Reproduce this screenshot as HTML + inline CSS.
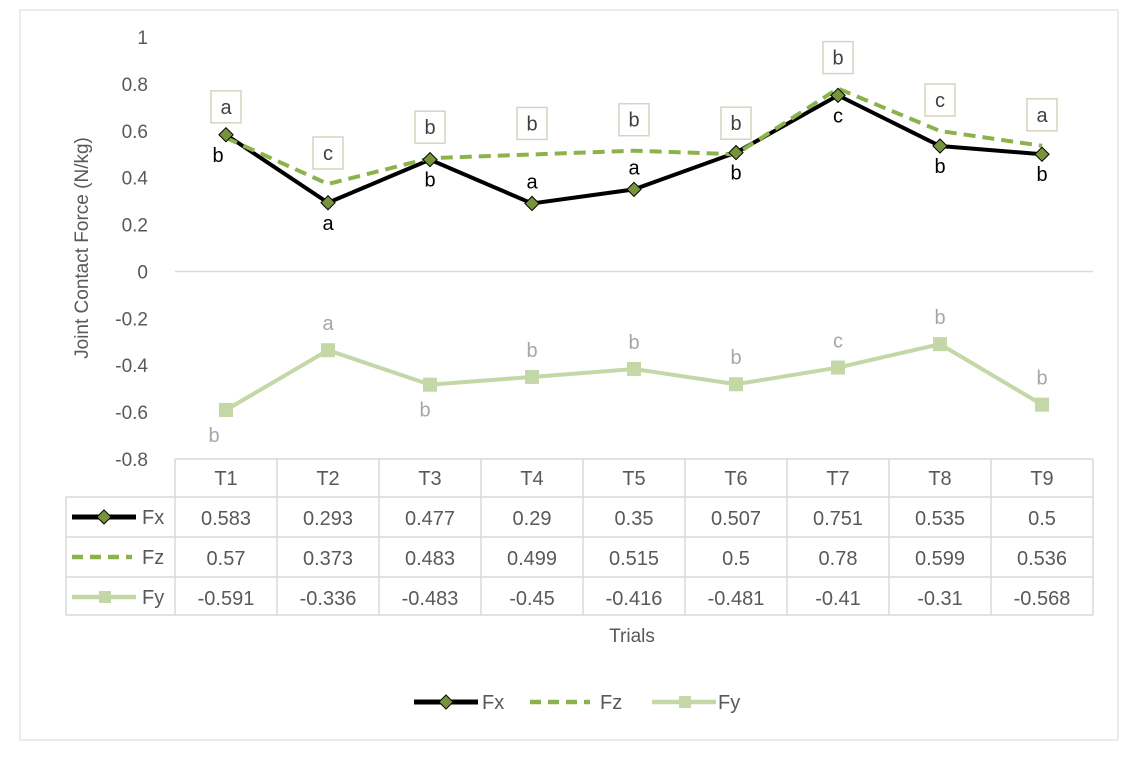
<!DOCTYPE html>
<html><head><meta charset="utf-8"><style>
body{margin:0;background:#fff;}
svg{font-family:"Liberation Sans",sans-serif;}
</style></head><body>
<svg id="c" width="1140" height="756" viewBox="0 0 1140 756" xmlns="http://www.w3.org/2000/svg">
<rect x="20" y="10" width="1098" height="730" fill="#fff" stroke="#d9d9d9"/>
<g id="g"></g>
</svg>
<script>
const categories=["T1","T2","T3","T4","T5","T6","T7","T8","T9"];
const fx=[0.583,0.293,0.477,0.29,0.35,0.507,0.751,0.535,0.5];
const fz=[0.57,0.373,0.483,0.499,0.515,0.5,0.78,0.599,0.536];
const fy=[-0.591,-0.336,-0.483,-0.45,-0.416,-0.481,-0.41,-0.31,-0.568];
const fxLetters=["b","a","b","a","a","b","c","b","b"];
const fzLetters=["a","c","b","b","b","b","b","c","a"];
const fyLetters=["b","a","b","b","b","b","c","b","b"];
const fxAbove=[0,0,0,1,1,0,0,0,0];
const fyAbove=[0,1,0,1,1,1,1,1,1];
const yTicks=[1,0.8,0.6,0.4,0.2,0,-0.2,-0.4,-0.6,-0.8];
const yTickLabels=["1","0.8","0.6","0.4","0.2","0","-0.2","-0.4","-0.6","-0.8"];

const NS="http://www.w3.org/2000/svg";
const g=document.getElementById('g');
const x0=175,colW=102,yTop=37,yBot=459,vMax=1,vMin=-0.8;
const X=i=>x0+colW*(i+0.5);
const Y=v=>yTop+(vMax-v)/(vMax-vMin)*(yBot-yTop);
function mk(t,a,txt){const e=document.createElementNS(NS,t);for(const k in a)e.setAttribute(k,a[k]);if(txt!==undefined)e.textContent=txt;g.appendChild(e);return e;}

// y ticks
yTicks.forEach((v,i)=>{
 const t=mk('text',{x:148,y:Y(v)+7,'text-anchor':'end','font-size':19,fill:'#595959'},yTickLabels[i]);
 
 
});
const zl=mk('line',{x1:x0,x2:x0+colW*9,y1:Y(0),y2:Y(0),stroke:'#d9d9d9','stroke-width':1.5});


const yt=mk('text',{x:0,y:0,transform:'translate(88,248) rotate(-90)','text-anchor':'middle','font-size':19,fill:'#595959'},'Joint Contact Force (N/kg)');



// table
const rows=[497,537,577,615];
const tl=[[x0,459,x0+colW*9,459],[66,497,x0+colW*9,497],[66,537,x0+colW*9,537],[66,577,x0+colW*9,577],[66,615,x0+colW*9,615],[66,497,66,615]];
for(let i=0;i<=9;i++)tl.push([x0+colW*i,459,x0+colW*i,615]);
tl.forEach(l=>{const e=mk('line',{x1:l[0],y1:l[1],x2:l[2],y2:l[3],stroke:'#d9d9d9','stroke-width':1.5});
 
 });
categories.forEach((c,i)=>{
 const t=mk('text',{x:X(i),y:485,'text-anchor':'middle','font-size':20,fill:'#595959'},c);
 
 
});
[fx,fz,fy].forEach((arr,r)=>{arr.forEach((v,i)=>{
 const t=mk('text',{x:X(i),y:rows[r]+28,'text-anchor':'middle','font-size':20,fill:'#595959'},String(v));
 
 
});});
const xt=mk('text',{x:632,y:642,'text-anchor':'middle','font-size':19,fill:'#595959'},'Trials');



function legendKey(x,y,kind,label,lx){
 if(kind==='fx'){mk('line',{x1:x,y1:y,x2:x+64,y2:y,stroke:'#000','stroke-width':5});mk('rect',{x:x+27,y:y-5,width:10,height:10,fill:'#77933c',stroke:'#000','stroke-width':1,transform:`rotate(45 ${x+32} ${y})`});}
 if(kind==='fz'){mk('line',{x1:x,y1:y,x2:x+60,y2:y,stroke:'#8cb34b','stroke-width':4.5,'stroke-dasharray':'11 7'});}
 if(kind==='fy'){mk('line',{x1:x,y1:y,x2:x+64,y2:y,stroke:'#c4d7a6','stroke-width':4.5});mk('rect',{x:x+27,y:y-6,width:12,height:12,fill:'#c4d7a6'});}
 const t=mk('text',{x:lx,y:y+7,'font-size':20,fill:'#595959'},label);
 
 
}
legendKey(72,517,'fx','Fx',142);legendKey(72,557,'fz','Fz',142);legendKey(72,597,'fy','Fy',142);
legendKey(414,702,'fx','Fx',482);legendKey(530,702,'fz','Fz',600);legendKey(652,702,'fy','Fy',718);

function poly(arr,attrs,name){const p=mk('polyline',Object.assign({points:arr.map((v,i)=>X(i)+','+Y(v)).join(' '),fill:'none'},attrs));
 
 }
poly(fy,{stroke:'#c4d7a6','stroke-width':4},'line-fy');
fy.forEach((v,i)=>{const r=mk('rect',{x:X(i)-7,y:Y(v)-7,width:14,height:14,fill:'#c4d7a6'});
 
 });
poly(fx,{stroke:'#000','stroke-width':4},'line-fx');
poly(fz,{stroke:'#8cb34b','stroke-width':4,'stroke-dasharray':'12 7'},'line-fz');
fx.forEach((v,i)=>{const r=mk('rect',{x:X(i)-5,y:Y(v)-5,width:10,height:10,fill:'#77933c',stroke:'#000','stroke-width':1,transform:`rotate(45 ${X(i)} ${Y(v)})`});
 
 });

// letters
fzLetters.forEach((l,i)=>{const cy=Y(fz[i])-31;
 const b=mk('rect',{x:X(i)-15,y:cy-16,width:30,height:32,fill:'#fff',stroke:'#d6d3c0','stroke-width':1.5});
 
 
 const t=mk('text',{x:X(i),y:cy+7,'text-anchor':'middle','font-size':20,fill:'#404040'},l);
 
 });
fxLetters.forEach((l,i)=>{const yy=fxAbove[i]?Y(fx[i])-15:Y(fx[i])+27;const xx=i===0?X(i)-8:X(i);
 const t=mk('text',{x:xx,y:yy,'text-anchor':'middle','font-size':20,fill:'#000'},l);
 
 });
fyLetters.forEach((l,i)=>{const yy=fyAbove[i]?Y(fy[i])-20:Y(fy[i])+32;const xx=i===0?X(i)-12:(i===2?X(i)-5:X(i));
 const t=mk('text',{x:xx,y:yy,'text-anchor':'middle','font-size':20,fill:'#a6a6a6'},l);
 
 });
</script>
</body></html>
